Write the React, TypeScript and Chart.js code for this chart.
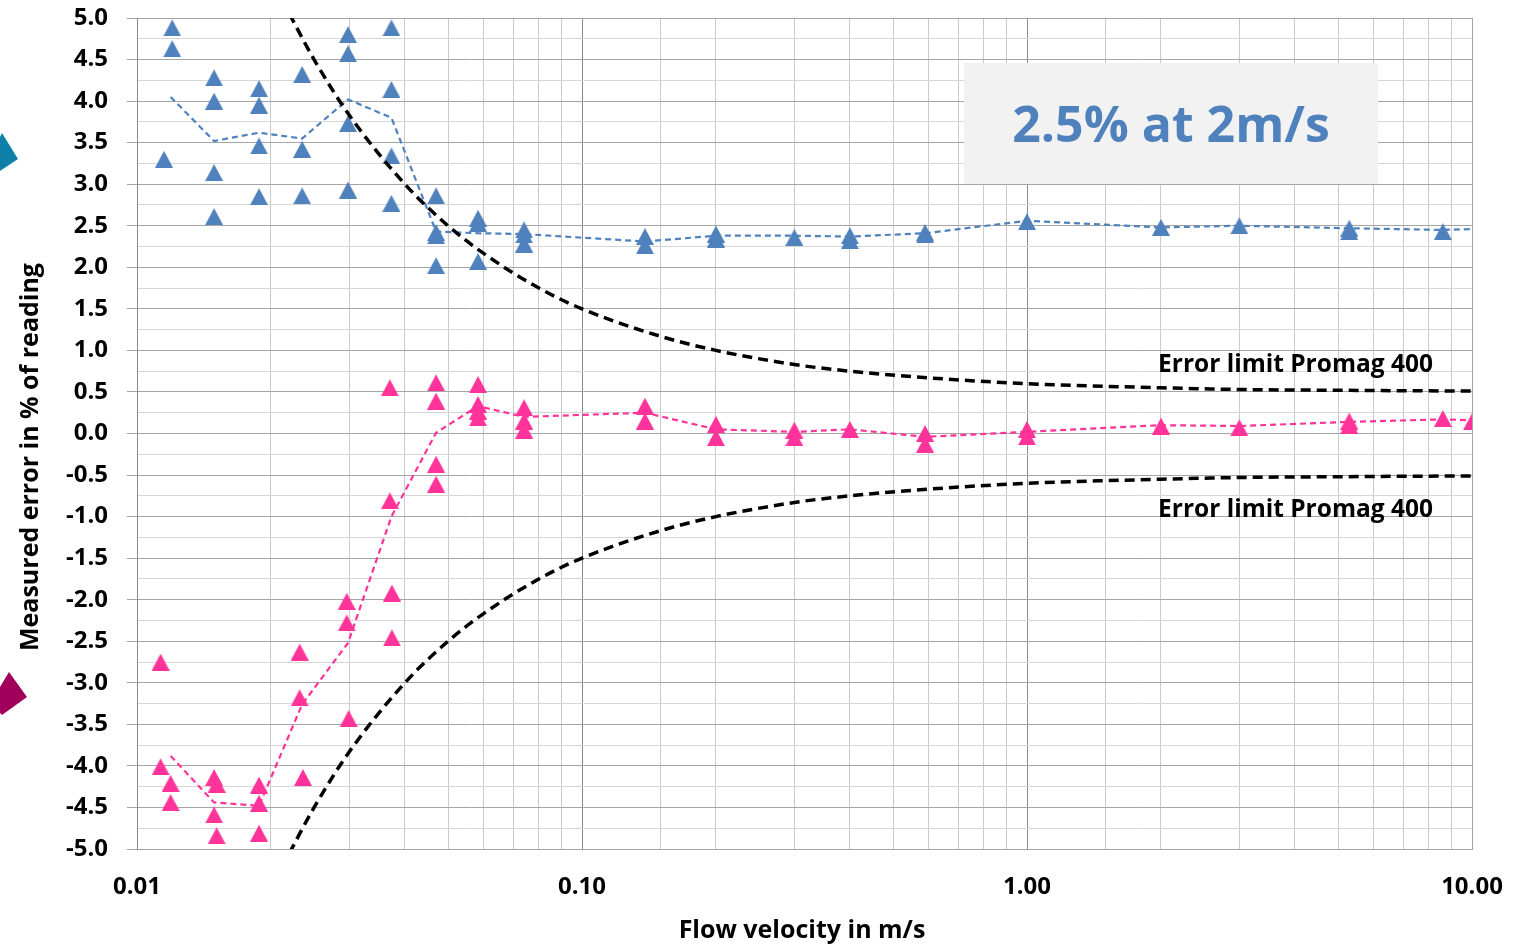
import React, { useEffect, useRef } from "react";
import { Chart, registerables } from "chart.js";

Chart.register(...registerables);

// ---- data ----
const blueVel = [
  0.0115, 0.012, 0.012,
  0.0149, 0.0149, 0.0149, 0.0149,
  0.0188, 0.0188, 0.0188, 0.0188,
  0.0235, 0.0235, 0.0235,
  0.0298, 0.0298, 0.0298, 0.0298,
  0.0373, 0.0373, 0.0373, 0.0373,
  0.047, 0.047, 0.047, 0.047,
  0.0584, 0.0584, 0.0584,
  0.0741, 0.0741, 0.0741,
  0.1385, 0.1385,
  0.2, 0.2,
  0.3,
  0.4, 0.4,
  0.59, 0.59,
  1.0, 2.0, 3.0,
  5.3, 5.3,
  8.6,
];
const blueErr = [
  3.3, 4.88, 4.63,
  4.28, 4.0, 3.14, 2.61,
  4.15, 3.95, 3.46, 2.85,
  4.32, 3.42, 2.86,
  4.8, 4.57, 3.73, 2.93,
  4.88, 4.14, 3.34, 2.77,
  2.86, 2.42, 2.38, 2.02,
  2.59, 2.53, 2.07,
  2.45, 2.39, 2.28,
  2.37, 2.26,
  2.4, 2.34,
  2.36,
  2.38, 2.32,
  2.42, 2.39,
  2.55, 2.48, 2.5,
  2.47, 2.43,
  2.43,
];

const pinkVel = [
  0.0113, 0.0113, 0.0119, 0.0119,
  0.0149, 0.0149, 0.0151, 0.0151,
  0.0188, 0.0188, 0.0188,
  0.0232, 0.0232, 0.0236,
  0.0296, 0.0296, 0.0299,
  0.037, 0.037, 0.0374, 0.0374,
  0.047, 0.047, 0.047, 0.047,
  0.0584, 0.0584, 0.0584, 0.0584,
  0.0741, 0.0741, 0.0741,
  0.1385, 0.1385,
  0.2, 0.2,
  0.3, 0.3,
  0.4,
  0.59, 0.59,
  1.0, 1.0,
  2.0, 3.0,
  5.3, 5.3,
  8.6, 10,
];
const pinkErr = [
  -2.75, -4.01, -4.21, -4.44,
  -4.14, -4.59, -4.22, -4.84,
  -4.23, -4.45, -4.81,
  -2.63, -3.18, -4.14,
  -2.02, -2.28, -3.43,
  0.55, -0.81, -1.92, -2.46,
  0.61, 0.39, -0.37, -0.61,
  0.59, 0.35, 0.27, 0.19,
  0.31, 0.15, 0.04,
  0.33, 0.15,
  0.11, -0.05,
  0.04, -0.05,
  0.05,
  0.0, -0.13,
  0.05, -0.04,
  0.09, 0.07,
  0.15, 0.1,
  0.18, 0.14,
];

const avgVel = [
  0.0119, 0.0149, 0.0188, 0.0235, 0.0298, 0.0373, 0.047, 0.0584, 0.0741, 0.1385,
  0.2, 0.3, 0.4, 0.59, 1.0, 2.0, 3.0, 5.3, 8.6, 10,
];
const blueAvg = [
  4.05, 3.52, 3.62, 3.55, 4.02, 3.8, 2.43, 2.41, 2.4, 2.31,
  2.38, 2.38, 2.37, 2.41, 2.56, 2.48, 2.5, 2.47, 2.45, 2.46,
];
const pinkAvg = [
  -3.88, -4.44, -4.48, -3.26, -2.52, -1.0, 0.01, 0.33, 0.2, 0.25,
  0.05, 0.02, 0.05, -0.04, 0.02, 0.1, 0.09, 0.14, 0.17, 0.16,
];

const limitVel = [
  0.022, 0.025, 0.03, 0.04, 0.05, 0.06, 0.08, 0.1, 0.15, 0.2, 0.3, 0.4, 0.6, 1, 2, 3, 5, 10,
];
const limitUpper = [
  5.05, 4.5, 3.83, 3.0, 2.5, 2.17, 1.75, 1.5, 1.17, 1.0, 0.83, 0.75, 0.67, 0.6, 0.55, 0.53, 0.52, 0.51,
];
const limitLower = [
  -5.05, -4.5, -3.83, -3.0, -2.5, -2.17, -1.75, -1.5, -1.17, -1.0, -0.83, -0.75, -0.67, -0.6, -0.55, -0.53, -0.52, -0.51,
];

const xTickLabels: Record<string, string> = { "-2": "0.01", "-1": "0.10", "0": "1.00", "1": "10.00" };

const limitLabel = "Error limit Promag 400";
const boxLabel = "2.5% at 2m/s";
const xTitle = "Flow velocity in m/s";
const yTitle = "Measured error in % of reading";

const BLUE = "#4f81bd";
const PINK = "#ff3399";
const FONT = "'Open Sans', 'DejaVu Sans', sans-serif";

function makeTriangle(color: string, w: number, h: number) {
  const c = document.createElement("canvas");
  c.width = w;
  c.height = h;
  const g = c.getContext("2d")!;
  g.fillStyle = color;
  g.beginPath();
  g.moveTo(0, h);
  g.lineTo(w / 2, 0);
  g.lineTo(w, h);
  g.closePath();
  g.fill();
  return c;
}

const zip = (xs: number[], ys: number[]) => xs.map((x, i) => ({ x, y: ys[i] }));

const isPow10 = (v: number) => {
  const l = Math.log10(v);
  return Math.abs(l - Math.round(l)) < 1e-9;
};
const isHalf = (v: number) => Math.abs(v * 2 - Math.round(v * 2)) < 1e-6;

const decorPlugin = {
  id: "decor",
  afterDraw(chart: any) {
    const ctx = chart.ctx as CanvasRenderingContext2D;
    ctx.save();
    // grey text box
    ctx.fillStyle = "#f2f2f2";
    ctx.fillRect(964, 63, 414, 121);
    ctx.fillStyle = BLUE;
    ctx.font = `bold 50px ${FONT}`;
    ctx.textAlign = "center";
    ctx.textBaseline = "alphabetic";
    ctx.fillText(boxLabel, 1171, 142);

    // error-limit labels
    ctx.fillStyle = "#000";
    ctx.font = `bold 24.5px ${FONT}`;
    ctx.textAlign = "right";
    ctx.fillText(limitLabel, 1433, 371.5);
    ctx.fillText(limitLabel, 1433, 516.5);

    // axis titles
    ctx.font = `bold 25px ${FONT}`;
    ctx.textAlign = "center";
    ctx.fillText(xTitle, 802, 938);
    ctx.save();
    ctx.translate(38, 457);
    ctx.rotate(-Math.PI / 2);
    ctx.fillText(yTitle, 0, 0);
    ctx.restore();

    // left-edge decorative arrows
    ctx.fillStyle = "#0e7fa6";
    ctx.beginPath();
    ctx.moveTo(0, 137);
    ctx.lineTo(2, 133);
    ctx.lineTo(18, 159);
    ctx.lineTo(0, 171);
    ctx.closePath();
    ctx.fill();
    ctx.fillStyle = "#a0005a";
    ctx.beginPath();
    ctx.moveTo(0, 687);
    ctx.lineTo(9, 672);
    ctx.lineTo(27, 697);
    ctx.lineTo(2, 715);
    ctx.lineTo(0, 713);
    ctx.closePath();
    ctx.fill();
    ctx.restore();
  },
};

export default function App() {
  const ref = useRef<HTMLCanvasElement | null>(null);

  useEffect(() => {
    document.body.style.margin = "0";
    const blueTri = makeTriangle(BLUE, 18, 17);
    const pinkTri = makeTriangle(PINK, 18, 17);

    const chart = new Chart(ref.current!, {
      type: "scatter",
      data: {
        datasets: [
          {
            label: "limitUpper",
            type: "line",
            data: zip(limitVel, limitUpper),
            borderColor: "#000",
            borderWidth: 3.5,
            borderDash: [10, 6],
            pointRadius: 0,
            cubicInterpolationMode: "monotone",
            fill: false,
            clip: 0,
          } as any,
          {
            label: "limitLower",
            type: "line",
            data: zip(limitVel, limitLower),
            borderColor: "#000",
            borderWidth: 3.5,
            borderDash: [10, 6],
            pointRadius: 0,
            cubicInterpolationMode: "monotone",
            fill: false,
            clip: 0,
          } as any,
          {
            label: "blueAvg",
            type: "line",
            data: zip(avgVel, blueAvg),
            borderColor: BLUE,
            borderWidth: 2.2,
            borderDash: [6, 4],
            pointRadius: 0,
            tension: 0,
            fill: false,
          } as any,
          {
            label: "pinkAvg",
            type: "line",
            data: zip(avgVel, pinkAvg),
            borderColor: PINK,
            borderWidth: 2.2,
            borderDash: [6, 4],
            pointRadius: 0,
            tension: 0,
            fill: false,
          } as any,
          {
            label: "blue",
            data: zip(blueVel, blueErr),
            pointStyle: blueTri,
            pointRadius: 8,
            backgroundColor: BLUE,
            borderColor: BLUE,
          } as any,
          {
            label: "pink",
            data: zip(pinkVel, pinkErr),
            pointStyle: pinkTri,
            pointRadius: 8,
            backgroundColor: PINK,
            borderColor: PINK,
          } as any,
        ],
      },
      options: {
        animation: false,
        responsive: false,
        maintainAspectRatio: false,
        events: [],
        layout: { padding: { top: 18, right: 64, left: 0, bottom: 0 } },
        plugins: { legend: { display: false }, tooltip: { enabled: false } },
        scales: {
          x: {
            type: "logarithmic",
            min: 0.01,
            max: 10,
            afterFit: (s: any) => {
              s.height = 100;
              s.paddingLeft = 0;
              s.paddingRight = 0;
            },
            border: { display: true, color: "#a5a5a5", width: 1 },
            grid: {
              drawTicks: false,
              lineWidth: 1,
              color: (c: any) => {
                const v = c.tick?.value;
                if (v === undefined) return "#c8c8c8";
                if (Math.abs(v - 10) < 1e-9) return "#a5a5a5";
                return isPow10(v) ? "#8a8a8a" : "#cacaca";
              },
            },
            ticks: {
              autoSkip: false,
              maxRotation: 0,
              minRotation: 0,
              padding: 24,
              color: "#000",
              font: { family: FONT, size: 24, weight: "bold" },
              callback: (value: any) => {
                const v = Number(value);
                if (!isPow10(v)) return "";
                return xTickLabels[String(Math.round(Math.log10(v)))] ?? "";
              },
            },
          },
          y: {
            type: "linear",
            min: -5,
            max: 5,
            afterFit: (s: any) => {
              s.width = 137;
              s.paddingTop = 0;
              s.paddingBottom = 0;
            },
            border: { display: true, color: "#8a8a8a", width: 1 },
            grid: {
              lineWidth: 1,
              tickLength: 10,
              color: (c: any) => (isHalf(c.tick?.value ?? 0) ? "#a5a5a5" : "#d6d6d6"),
              tickColor: (c: any) => (isHalf(c.tick?.value ?? 0) ? "#a5a5a5" : "rgba(0,0,0,0)"),
            },
            ticks: {
              stepSize: 0.25,
              autoSkip: false,
              padding: 19,
              color: "#000",
              font: { family: FONT, size: 24, weight: "bold" },
              callback: (value: any) => {
                const v = Number(value);
                return isHalf(v) ? (Math.abs(v) < 1e-9 ? 0 : v).toFixed(1) : "";
              },
            },
          },
        },
      } as any,
      plugins: [decorPlugin],
    });
    return () => chart.destroy();
  }, []);

  return (
    <div style={{ position: "absolute", left: 0, top: 0, width: 1536, height: 949, background: "#fff" }}>
      <canvas ref={ref} width={1536} height={949} style={{ width: 1536, height: 949, display: "block" }} />
    </div>
  );
}
